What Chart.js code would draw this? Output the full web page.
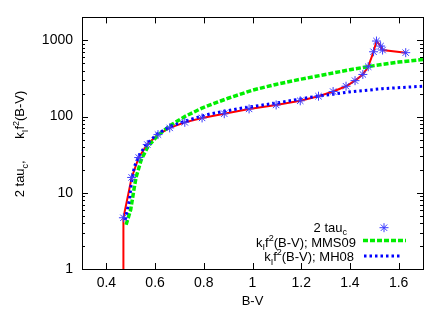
<!DOCTYPE html>
<html><head><meta charset="utf-8">
<script src="https://cdn.jsdelivr.net/npm/chart.js@4/dist/chart.umd.min.js"></script>
<style>html,body{margin:0;padding:0;background:#fff}#wrap{width:447px;height:313px}</style>
</head><body><div id="wrap"><canvas id="c" width="447" height="313"></canvas></div>
<script>
// 2 tau_c measured points (asterisks)
const starBV  = [0.470,0.504,0.533,0.568,0.612,0.660,0.722,0.793,0.884,0.986,1.097,1.196,1.271,1.331,1.384,1.421,1.453,1.475,1.497,1.509,1.526,1.534,1.629];
const starTau = [4.7,15.9,29,43,58,71,84,96,109,126,142,161,185,213,250,296,357,451,708,979,841,746,689];
// red connecting line (drops to the axis at the blue edge)
const fitBV  = [0.469,0.470,0.504,0.533,0.568,0.612,0.660,0.722,0.793,0.884,0.986,1.097,1.196,1.271,1.331,1.384,1.421,1.453,1.475,1.497,1.509,1.526,1.534,1.629];
const fitVal = [0.3,4.7,15.9,29,43,58,71,84,96,109,126,142,161,185,213,250,296,357,451,708,979,841,746,689];
// k_I f^2(B-V); MMS09
const mmsBV  = [0.481,0.500,0.513,0.522,0.543,0.570,0.612,0.667,0.722,0.790,0.838,0.900,1.000,1.100,1.200,1.300,1.400,1.500,1.600,1.700];
const mmsVal = [3.8,6.0,10.9,16,27,40,57,78,100,128,147,174,222,266,310,357,412,466,519,562];
// k_I f^2(B-V); MH08
const mhBV  = [0.477,0.495,0.502,0.515,0.536,0.564,0.605,0.660,0.722,0.790,0.825,0.962,1.100,1.237,1.395,1.533,1.700];
const mhVal = [4.4,8.1,13,22,31.6,43,58,74,87,101,108,130,151,179,210,232,250];

const xTicks = [0.4,0.6,0.8,1,1.2,1.4,1.6];
const yTicks = [1,10,100,1000];

const FONT = '"Liberation Sans", Arial, Helvetica, sans-serif';
Chart.defaults.font.family = FONT;
Chart.defaults.font.size = 14;
Chart.defaults.color = '#000';

function pts(xs, ys){ return xs.map((x,i)=>({x:x,y:ys[i]})); }

function drawRich(ctx, segs, size, x, y, align){
  const small = Math.round(size*0.72);
  const widths = segs.map(s=>{ ctx.font = ((s.m==='n')?size:small)+'px '+FONT; return ctx.measureText(s.t).width; });
  const total = widths.reduce((a,b)=>a+b,0);
  let cx = align==='right' ? x-total : (align==='center' ? x-total/2 : x);
  segs.forEach((s,i)=>{
    ctx.font = ((s.m==='n')?size:small)+'px '+FONT;
    let dy = 0;
    if (s.m==='sub') dy = size*0.3;
    if (s.m==='sup') dy = -size*0.42;
    ctx.fillText(s.t, cx, y+dy);
    cx += widths[i];
  });
}

const framePlugin = {
  id:'frame',
  afterDraw(chart){
    const ctx = chart.ctx, a = chart.chartArea;
    const xs = chart.scales.x, ys = chart.scales.y;
    ctx.save();
    ctx.strokeStyle = '#000'; ctx.lineWidth = 1;
    ctx.strokeRect(Math.round(a.left)+0.5, Math.round(a.top)+0.5, Math.round(a.right-a.left), Math.round(a.bottom-a.top));
    ctx.beginPath();
    xTicks.forEach(v=>{
      const px = Math.round(xs.getPixelForValue(v))+0.5;
      ctx.moveTo(px, a.bottom); ctx.lineTo(px, a.bottom-6);
      ctx.moveTo(px, a.top); ctx.lineTo(px, a.top+6);
    });
    for (let d=1; d<=1000; d*=10){
      for (let m=1; m<=9; m++){
        const v = d*m;
        if (v > ys.max) break;
        const len = (m===1) ? 6 : 3;
        const py = Math.round(ys.getPixelForValue(v))+0.5;
        ctx.moveTo(a.left, py); ctx.lineTo(a.left+len, py);
        ctx.moveTo(a.right, py); ctx.lineTo(a.right-len, py);
      }
    }
    ctx.stroke();

    // y axis title
    ctx.fillStyle = '#000';
    ctx.textBaseline = 'alphabetic';
    ctx.save();
    ctx.translate(24, 144);
    ctx.rotate(-Math.PI/2);
    drawRich(ctx, [
      {t:'2 tau',m:'n'},{t:'c',m:'sub'},{t:',      k',m:'n'},{t:'I',m:'sub'},{t:'f',m:'n'},{t:'2',m:'sup'},{t:'(B-V)',m:'n'}
    ], 13, 0, 0, 'center');
    ctx.restore();

    // legend
    drawRich(ctx, [{t:'2 tau',m:'n'},{t:'c',m:'sub'}], 13, 347, 231.5, 'right');
    drawRich(ctx, [{t:'k',m:'n'},{t:'I',m:'sub'},{t:'f',m:'n'},{t:'2',m:'sup'},{t:'(B-V); MMS09',m:'n'}], 13, 356, 246.5, 'right');
    drawRich(ctx, [{t:'k',m:'n'},{t:'I',m:'sub'},{t:'f',m:'n'},{t:'2',m:'sup'},{t:'(B-V); MH08',m:'n'}], 13, 354, 260.7, 'right');

    // legend samples
    ctx.strokeStyle = '#3a3aff'; ctx.lineWidth = 1;
    Chart.helpers.drawPoint(ctx, {pointStyle:'star', radius:4.5, rotation:0, borderWidth:1}, 384, 227.7);
    ctx.lineCap = 'butt';
    ctx.strokeStyle = '#00ee00'; ctx.lineWidth = 3.5; ctx.setLineDash([5,2]);
    ctx.beginPath(); ctx.moveTo(363,240.5); ctx.lineTo(406,240.5); ctx.stroke();
    ctx.strokeStyle = '#0000ff'; ctx.lineWidth = 3; ctx.setLineDash([2.5,3]);
    ctx.beginPath(); ctx.moveTo(364,256); ctx.lineTo(402,256); ctx.stroke();
    ctx.restore();
  }
};

new Chart(document.getElementById('c'), {
  type:'scatter',
  data:{ datasets:[
    {label:'2 tau_c', data:pts(starBV,starTau), showLine:false, pointStyle:'star', pointRadius:4.5, pointBorderWidth:1, borderColor:'#3a3aff', backgroundColor:'#3a3aff', order:0},
    {label:'MH08', data:pts(mhBV,mhVal), showLine:true, borderColor:'#0000ff', borderWidth:3, borderDash:[2.5,3], pointRadius:0, order:1},
    {label:'MMS09', data:pts(mmsBV,mmsVal), showLine:true, borderColor:'#00ee00', borderWidth:3.5, borderDash:[5,2], pointRadius:0, order:2},
    {label:'fit', data:pts(fitBV,fitVal), showLine:true, borderColor:'#ff0000', borderWidth:2, pointRadius:0, order:3}
  ]},
  options:{
    responsive:false, animation:false, devicePixelRatio:1,
    layout:{padding:{left:0, top:17, right:24, bottom:0}},
    plugins:{legend:{display:false}, tooltip:{enabled:false}},
    scales:{
      x:{ type:'linear', min:0.3, max:1.7,
        afterBuildTicks(s){ s.ticks = xTicks.map(v=>({value:v})); },
        afterFit(s){ s.height = 44; },
        grid:{display:false, drawTicks:false}, border:{display:false},
        ticks:{ padding:6, maxRotation:0, autoSkip:false, callback:(v)=>String(v) },
        title:{ display:true, text:'B-V', font:{size:13}, padding:{top:0,bottom:4} }
      },
      y:{ type:'logarithmic', min:1, max:2000,
        afterBuildTicks(s){ s.ticks = yTicks.map(v=>({value:v})); },
        afterFit(s){ s.width = 82; },
        grid:{display:false, drawTicks:false}, border:{display:false},
        ticks:{ padding:9, autoSkip:false, callback:(v)=>String(v) }
      }
    }
  },
  plugins:[framePlugin]
});
</script></body></html>
